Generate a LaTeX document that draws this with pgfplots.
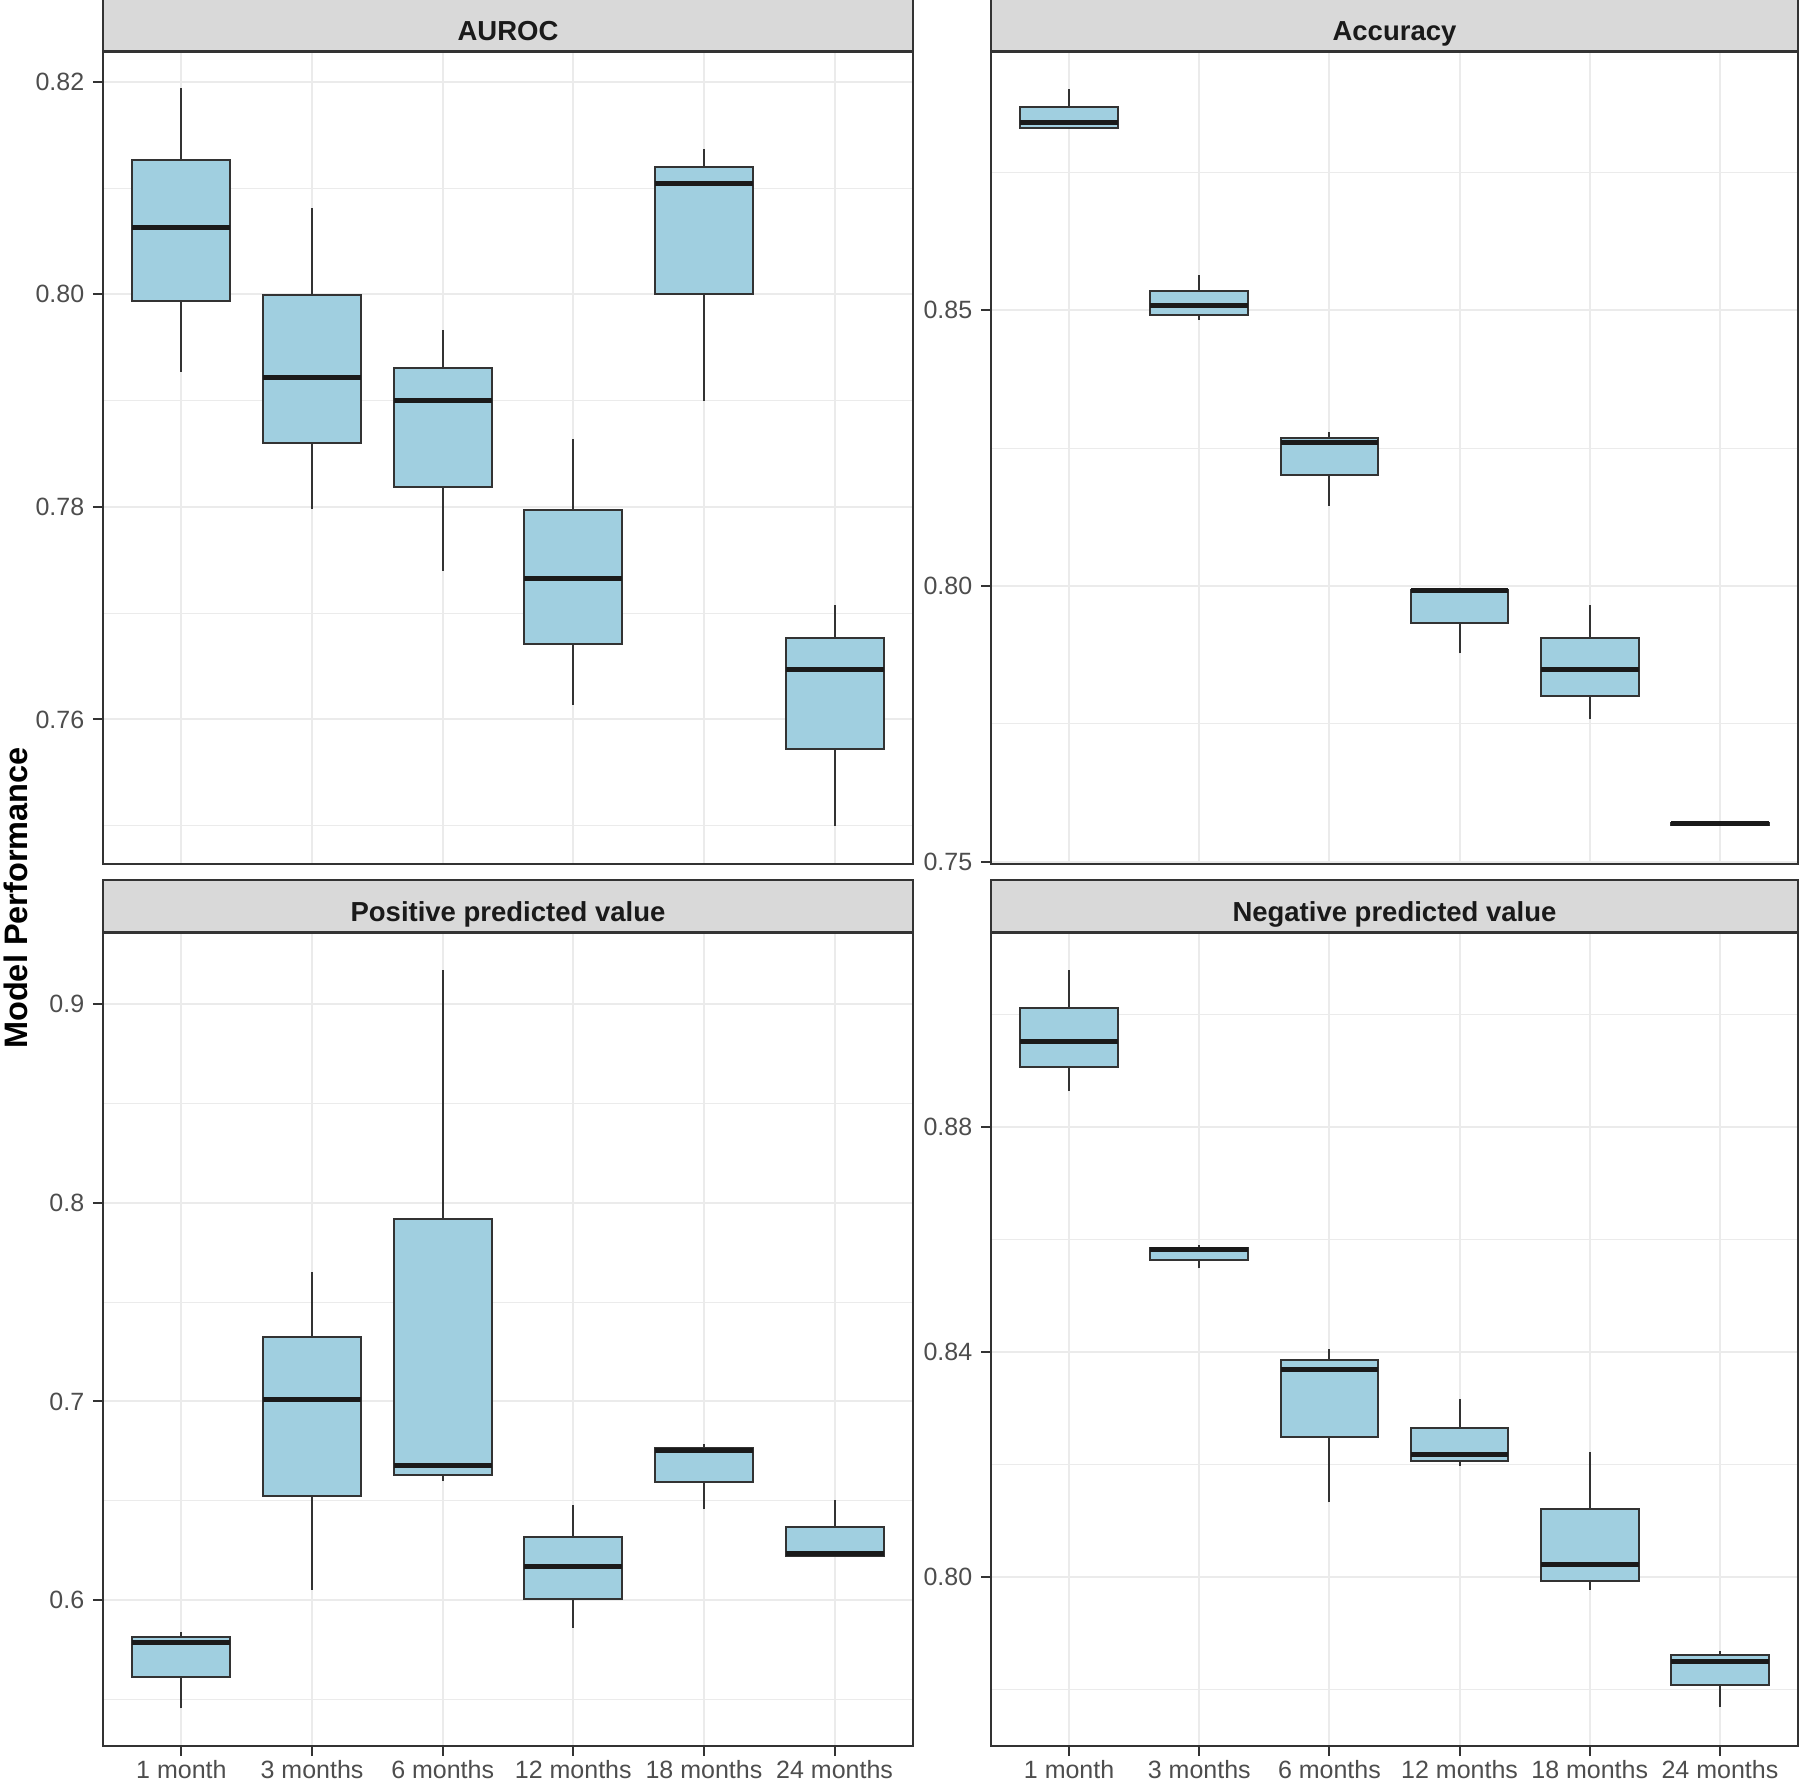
\documentclass[border=0pt]{standalone}
\usepackage{fontspec}
\setmainfont{Liberation Sans}
\usepackage{pgfplots}
\pgfplotsset{compat=1.18}
\definecolor{boxfill}{RGB}{160,207,224}
\definecolor{gridmaj}{RGB}{235,235,235}
\definecolor{stripfill}{RGB}{217,217,217}
\definecolor{grey20}{RGB}{51,51,51}
\definecolor{grey30}{RGB}{77,77,77}
\definecolor{grey10}{RGB}{26,26,26}
\pgfplotsset{
  panel/.style={
    scale only axis,
    xmin=-0.6, xmax=5.6,
    xtick={0,1,2,3,4,5},
    axis line style={grey20, line width=0.8pt},
    tick style={grey20, line width=0.8pt},
    tick align=outside,
    major tick length=4pt,
    minor tick length=0pt,
    xtick pos=bottom, ytick pos=left,
    xmajorgrids, ymajorgrids, yminorgrids,
    major grid style={gridmaj, line width=0.8pt},
    minor grid style={gridmaj, line width=0.4pt},
    ticklabel style={font=\fontsize{10}{12}\selectfont, text=grey30},
    xticklabel style={yshift=1.8pt},
    /pgf/number format/assume math mode=true,
    every axis title/.style={at={(0.5,1)}, anchor=south, fill=stripfill, draw=grey20, line width=0.8pt, minimum height=20.8pt, text height=12.1pt, text depth=0pt, inner sep=0pt, font=\bfseries\fontsize{11}{13}\selectfont, text=grey10},
  },
  whisk/.style={draw=grey20, line width=0.8pt, mark=none},
  boxs/.style={draw=grey20, fill=boxfill, line width=0.8pt, mark=none},
  med/.style={draw=grey10, line width=2pt, mark=none},
  toprow/.style={xticklabels={}, xtick style={draw=none}},
  botrow/.style={xticklabels={1 month,3 months,6 months,12 months,18 months,24 months}},
}
% #1 centre, #2 left, #3 right, #4 lower whisker, #5 lower quartile, #6 median, #7 upper quartile, #8 upper whisker
\newcommand{\bx}[8]{%
\addplot[whisk] coordinates {(#1,#4) (#1,#5)};
\addplot[whisk] coordinates {(#1,#7) (#1,#8)};
\addplot[boxs] coordinates {(#2,#5) (#3,#5) (#3,#7) (#2,#7)} -- cycle;
\addplot[med] coordinates {(#2,#6) (#3,#6)};
}
\begin{document}
\begin{tikzpicture}
\useasboundingbox (0,0) rectangle (720pt,712.4pt);
% AUROC
\begin{axis}[panel, toprow, at={(41.2pt,366.8pt)}, anchor=south west,
  width=324pt, height=324.8pt, ymin=0.7464, ymax=0.8228,
  ytick={0.76,0.78,0.80,0.82}, yticklabels={0.76,0.78,0.80,0.82},
  minor ytick={0.75,0.77,0.79,0.81},
  title={AUROC}, title style={minimum width=324pt}]
\bx{0}{-0.375}{0.375}{0.7927}{0.7994}{0.8063}{0.8126}{0.8194}
\bx{1}{0.625}{1.375}{0.7798}{0.7860}{0.7922}{0.7999}{0.8081}
\bx{2}{1.625}{2.375}{0.7740}{0.7819}{0.7900}{0.7931}{0.7966}
\bx{3}{2.625}{3.375}{0.7614}{0.7671}{0.7733}{0.7797}{0.7864}
\bx{4}{3.625}{4.375}{0.7900}{0.8000}{0.8104}{0.8120}{0.8137}
\bx{5}{4.625}{5.375}{0.7500}{0.7572}{0.7647}{0.7677}{0.7708}
\end{axis}
% Accuracy
\begin{axis}[panel, toprow, at={(396.4pt,366.8pt)}, anchor=south west,
  width=322.8pt, height=324.8pt, ymin=0.7496, ymax=0.8968,
  ytick={0.75,0.80,0.85}, yticklabels={0.75,0.80,0.85},
  minor ytick={0.775,0.825,0.875},
  title={Accuracy}, title style={minimum width=322.8pt}]
\bx{0}{-0.375}{0.375}{0.8830}{0.8831}{0.8841}{0.8869}{0.8901}
\bx{1}{0.625}{1.375}{0.8483}{0.8492}{0.8508}{0.8535}{0.8564}
\bx{2}{1.625}{2.375}{0.8145}{0.8202}{0.8260}{0.8269}{0.8279}
\bx{3}{2.625}{3.375}{0.7878}{0.7933}{0.7992}{0.7993}{0.7994}
\bx{4}{3.625}{4.375}{0.7758}{0.7801}{0.7849}{0.7906}{0.7966}
\bx{5}{4.625}{5.375}{0.7566}{0.7567}{0.7569}{0.7571}{0.7573}
\end{axis}
% PPV
\begin{axis}[panel, botrow, at={(41.2pt,14pt)}, anchor=south west,
  width=324pt, height=325.2pt, ymin=0.5266, ymax=0.9358,
  ytick={0.6,0.7,0.8,0.9}, yticklabels={0.6,0.7,0.8,0.9},
  minor ytick={0.55,0.65,0.75,0.85},
  title={Positive predicted value}, title style={minimum width=324pt}]
\bx{0}{-0.375}{0.375}{0.5456}{0.5615}{0.5789}{0.5817}{0.5839}
\bx{1}{0.625}{1.375}{0.6052}{0.6526}{0.7012}{0.7324}{0.7653}
\bx{2}{1.625}{2.375}{0.6601}{0.6630}{0.6676}{0.7919}{0.9173}
\bx{3}{2.625}{3.375}{0.5861}{0.6006}{0.6168}{0.6318}{0.6480}
\bx{4}{3.625}{4.375}{0.6458}{0.6594}{0.6752}{0.6765}{0.6787}
\bx{5}{4.625}{5.375}{0.6220}{0.6220}{0.6233}{0.6368}{0.6505}
\end{axis}
% NPV
\begin{axis}[panel, botrow, at={(396.4pt,14pt)}, anchor=south west,
  width=322.8pt, height=325.2pt, ymin=0.77, ymax=0.9145,
  ytick={0.80,0.84,0.88}, yticklabels={0.80,0.84,0.88},
  minor ytick={0.78,0.82,0.86,0.90},
  title={Negative predicted value}, title style={minimum width=322.8pt}]
\bx{0}{-0.375}{0.375}{0.8865}{0.8906}{0.8953}{0.9012}{0.9080}
\bx{1}{0.625}{1.375}{0.8549}{0.8563}{0.8582}{0.8586}{0.8591}
\bx{2}{1.625}{2.375}{0.8133}{0.8249}{0.8369}{0.8386}{0.8406}
\bx{3}{2.625}{3.375}{0.8198}{0.8206}{0.8218}{0.8265}{0.8316}
\bx{4}{3.625}{4.375}{0.7978}{0.7994}{0.8022}{0.8122}{0.8222}
\bx{5}{4.625}{5.375}{0.7769}{0.7808}{0.7851}{0.7861}{0.7869}
\end{axis}
\node[rotate=90, font=\bfseries\fontsize{13}{15}\selectfont] at (6.4pt,353.2pt) {Model Performance};
\end{tikzpicture}
\end{document}
